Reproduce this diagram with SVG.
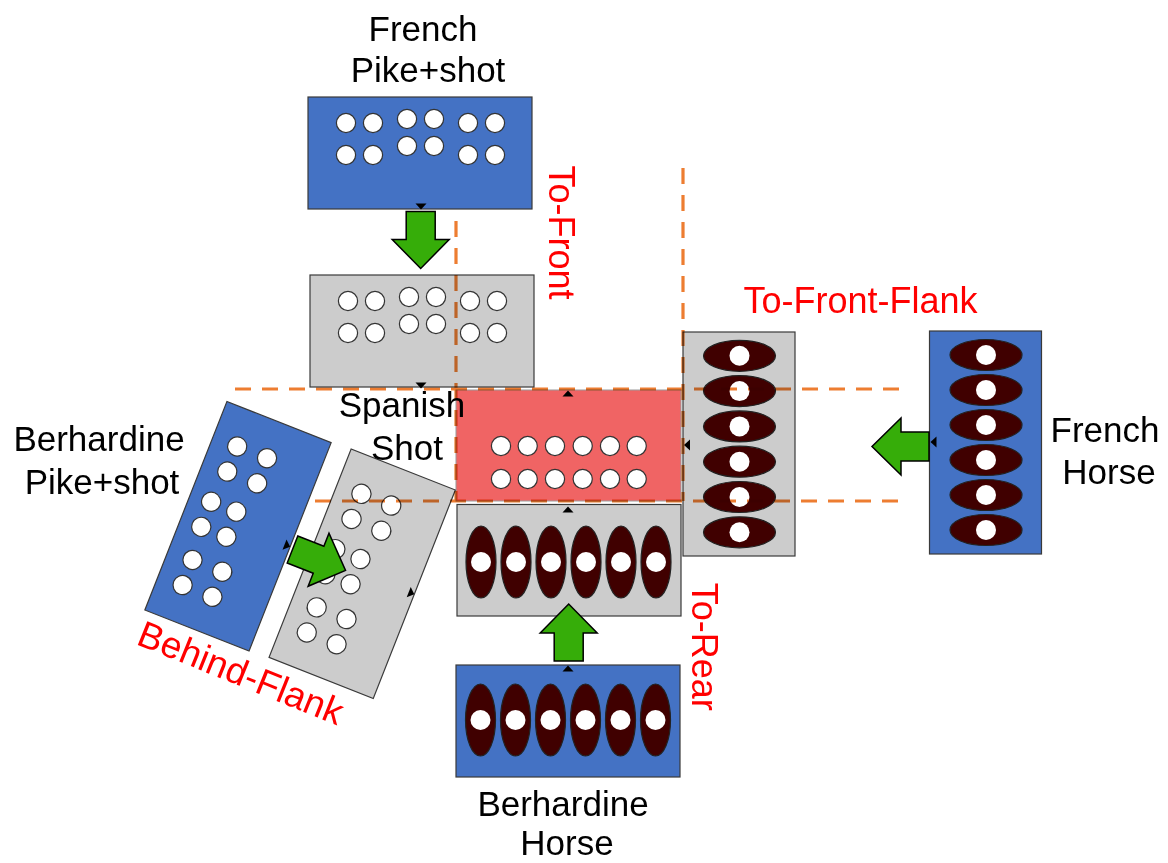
<svg xmlns="http://www.w3.org/2000/svg" xmlns:xlink="http://www.w3.org/1999/xlink" width="1168" height="863" viewBox="0 0 1168 863">
  <style>
    .blue { fill: #4472C4; stroke: #3a3a3a; stroke-width: 1.2; }
    .gray { fill: #CCCCCC; stroke: #3a3a3a; stroke-width: 1.2; }
    .red { fill: #F06464; stroke: #9a9a9a; stroke-width: 1; }
    .man { fill: #FFFFFF; stroke: #333333; stroke-width: 1.2; }
    .horse { fill: #400000; stroke: #222222; stroke-width: 1.2; }
    .rider { fill: #FFFFFF; stroke: none; }
    .front { fill: #000000; }
    .move { fill: #36AD09; stroke: #000000; stroke-width: 1.5; stroke-linejoin: miter; }
    .zone { stroke: #ED7D31; stroke-width: 3.2; stroke-dasharray: 16 11; fill: none; }
    .lbl { font-family: "Liberation Sans", Arial, sans-serif; font-size: 35px; fill: #000000; text-anchor: middle; }
    .act { font-family: "Liberation Sans", Arial, sans-serif; font-size: 36px; fill: #FF0000; text-anchor: middle; }
  </style>
  <defs>
    <!-- two rows of shot, paired columns, middle pair set higher -->
    <g id="shot12">
      <circle class="man" cx="-74" cy="-30" r="9.6"/>
      <circle class="man" cx="-47" cy="-30" r="9.6"/>
      <circle class="man" cx="-13" cy="-34" r="9.6"/>
      <circle class="man" cx="14" cy="-34" r="9.6"/>
      <circle class="man" cx="48" cy="-30" r="9.6"/>
      <circle class="man" cx="75" cy="-30" r="9.6"/>
      <circle class="man" cx="-74" cy="2" r="9.6"/>
      <circle class="man" cx="-47" cy="2" r="9.6"/>
      <circle class="man" cx="-13" cy="-7" r="9.6"/>
      <circle class="man" cx="14" cy="-7" r="9.6"/>
      <circle class="man" cx="48" cy="2" r="9.6"/>
      <circle class="man" cx="75" cy="2" r="9.6"/>
    </g>
    <!-- one horseman seen from above, long axis vertical -->
    <g id="horseV">
      <ellipse class="horse" cx="0" cy="0" rx="15" ry="36"/>
      <circle class="rider" cx="0" cy="0" r="10"/>
    </g>
    <!-- one horseman, long axis horizontal -->
    <g id="horseH">
      <ellipse class="horse" cx="0" cy="0" rx="36" ry="15.5"/>
      <circle class="rider" cx="0" cy="0" r="10"/>
    </g>
    <!-- facing marker, tip at origin pointing up -->
    <path id="tri" class="front" d="M0,0 L5.5,6 L-5.5,6 Z"/>
    <!-- block arrow pointing along +x, tail at origin -->
    <path id="moveArrow" class="move" d="M0,-14.5 H28 V-28.5 L57,0 L28,28.5 V14.5 H0 Z"/>
  </defs>

  <!-- French pike and shot -->
  <g id="french-pike-shot">
    <rect class="blue" x="308" y="97" width="224" height="112"/>
    <use xlink:href="#shot12" transform="translate(420,153)"/>
    <use xlink:href="#tri" transform="translate(421,209.5) rotate(180)"/>
  </g>

  <!-- French pike and shot, moved to the front -->
  <g id="french-pike-shot-front">
    <rect class="gray" x="310" y="275" width="224" height="112"/>
    <use xlink:href="#shot12" transform="translate(422,331)"/>
    <use xlink:href="#tri" transform="translate(421,388.5) rotate(180)"/>
  </g>

  <!-- Spanish shot -->
  <g id="spanish-shot">
    <rect class="red" x="456" y="390" width="225" height="111"/>
    <g transform="translate(568.5,445.5)">
      <circle class="man" cx="-67.5" cy="0.5" r="9.6"/>
      <circle class="man" cx="-40.8" cy="0.5" r="9.6"/>
      <circle class="man" cx="-13.5" cy="0.5" r="9.6"/>
      <circle class="man" cx="14.2" cy="0.5" r="9.6"/>
      <circle class="man" cx="41.5" cy="0.5" r="9.6"/>
      <circle class="man" cx="68.2" cy="0.5" r="9.6"/>
      <circle class="man" cx="-67.5" cy="33.5" r="9.6"/>
      <circle class="man" cx="-40.8" cy="33.5" r="9.6"/>
      <circle class="man" cx="-13.5" cy="33.5" r="9.6"/>
      <circle class="man" cx="14.2" cy="33.5" r="9.6"/>
      <circle class="man" cx="41.5" cy="33.5" r="9.6"/>
      <circle class="man" cx="68.2" cy="33.5" r="9.6"/>
    </g>
    <use xlink:href="#tri" transform="translate(568,390.5)"/>
  </g>

  <!-- French horse, moved to the front flank -->
  <g id="french-horse-flank">
    <rect class="gray" x="683" y="332" width="112" height="224"/>
    <use xlink:href="#horseH" transform="translate(739.5,355.8)"/>
    <use xlink:href="#horseH" transform="translate(739.5,391.1)"/>
    <use xlink:href="#horseH" transform="translate(739.5,426.4)"/>
    <use xlink:href="#horseH" transform="translate(739.5,461.7)"/>
    <use xlink:href="#horseH" transform="translate(739.5,497)"/>
    <use xlink:href="#horseH" transform="translate(739.5,532.3)"/>
    <use xlink:href="#tri" transform="translate(684,445) rotate(-90)"/>
  </g>

  <!-- French horse -->
  <g id="french-horse">
    <rect class="blue" x="929.5" y="331" width="112" height="223"/>
    <use xlink:href="#horseH" transform="translate(986,355)"/>
    <use xlink:href="#horseH" transform="translate(986,390)"/>
    <use xlink:href="#horseH" transform="translate(986,425)"/>
    <use xlink:href="#horseH" transform="translate(986,460)"/>
    <use xlink:href="#horseH" transform="translate(986,495)"/>
    <use xlink:href="#horseH" transform="translate(986,530)"/>
    <use xlink:href="#tri" transform="translate(930.5,442) rotate(-90)"/>
  </g>

  <!-- Berhardine horse, moved to the rear -->
  <g id="berhardine-horse-rear">
    <rect class="gray" x="457" y="504.5" width="224" height="111.5"/>
    <use xlink:href="#horseV" transform="translate(481,562)"/>
    <use xlink:href="#horseV" transform="translate(516,562)"/>
    <use xlink:href="#horseV" transform="translate(551,562)"/>
    <use xlink:href="#horseV" transform="translate(586,562)"/>
    <use xlink:href="#horseV" transform="translate(621,562)"/>
    <use xlink:href="#horseV" transform="translate(656,562)"/>
    <use xlink:href="#tri" transform="translate(568,506.5)"/>
  </g>

  <!-- Berhardine horse -->
  <g id="berhardine-horse">
    <rect class="blue" x="456" y="665" width="224" height="112"/>
    <use xlink:href="#horseV" transform="translate(480.5,720)"/>
    <use xlink:href="#horseV" transform="translate(515.5,720)"/>
    <use xlink:href="#horseV" transform="translate(550.5,720)"/>
    <use xlink:href="#horseV" transform="translate(585.5,720)"/>
    <use xlink:href="#horseV" transform="translate(620.5,720)"/>
    <use xlink:href="#horseV" transform="translate(655.5,720)"/>
    <use xlink:href="#tri" transform="translate(568,665.5)"/>
  </g>

  <!-- Berhardine pike and shot, tilted -->
  <g id="berhardine-pike-shot" transform="translate(238,526.3) rotate(21.5)">
    <rect class="blue" x="-56" y="-112" width="112" height="224"/>
    <use xlink:href="#shot12" transform="matrix(0,1,1,0,0,0)"/>
    <use xlink:href="#tri" transform="translate(56,0) rotate(90)"/>
  </g>

  <!-- Berhardine pike and shot, moved behind the flank -->
  <g id="berhardine-pike-shot-flank" transform="translate(362.2,573.7) rotate(21.5)">
    <rect class="gray" x="-56" y="-112" width="112" height="224"/>
    <use xlink:href="#shot12" transform="matrix(0,1,1,0,0,0)"/>
    <use xlink:href="#tri" transform="translate(56,0) rotate(90)"/>
  </g>

  <!-- zone boundaries round the Spanish shot -->
  <g id="zone-lines" style="mix-blend-mode:multiply">
    <line class="zone" x1="456" y1="221" x2="456" y2="501"/>
    <line class="zone" x1="683" y1="168" x2="683" y2="501"/>
    <line class="zone" x1="235" y1="389" x2="906" y2="389"/>
    <line class="zone" x1="315" y1="501" x2="906" y2="501"/>
  </g>

  <!-- movement arrows -->
  <g id="connectors">
    <use xlink:href="#moveArrow" transform="translate(420.7,211.5) rotate(90)"/>
    <use xlink:href="#moveArrow" transform="translate(929,446.5) rotate(180)"/>
    <use xlink:href="#moveArrow" transform="translate(568.7,661) rotate(-90)"/>
    <use xlink:href="#moveArrow" transform="translate(292.5,549.5) rotate(21.5)"/>
  </g>

  <!-- unit names -->
  <g id="labels">
    <text class="lbl" x="423" y="41">French</text>
    <text class="lbl" x="428" y="81.5">Pike+shot</text>
    <text class="lbl" x="99" y="451">Berhardine</text>
    <text class="lbl" x="102" y="494">Pike+shot</text>
    <text class="lbl" x="402" y="417">Spanish</text>
    <text class="lbl" x="407" y="460">Shot</text>
    <text class="lbl" x="1105" y="442">French</text>
    <text class="lbl" x="1109" y="483.5">Horse</text>
    <text class="lbl" x="563" y="816">Berhardine</text>
    <text class="lbl" x="567" y="855">Horse</text>
  </g>

  <!-- manoeuvre names -->
  <g id="actions">
    <text class="act" transform="translate(549,232.5) rotate(90)">To-Front</text>
    <text class="act" x="860.5" y="313">To-Front-Flank</text>
    <text class="act" transform="translate(692,646.7) rotate(90)">To-Rear</text>
    <text class="act" transform="translate(236,684.5) rotate(22)" style="font-size:37px">Behind-Flank</text>
  </g>
</svg>
